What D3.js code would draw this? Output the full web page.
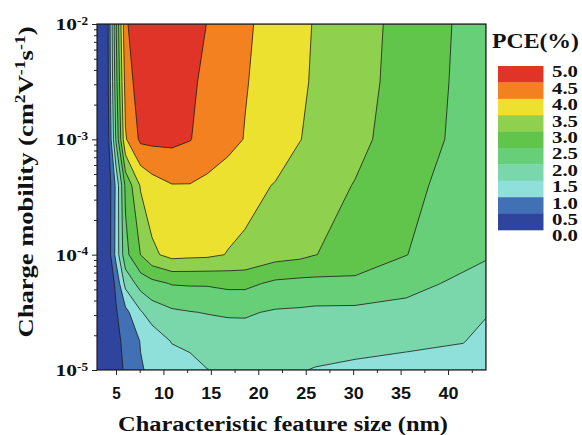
<!DOCTYPE html>
<html>
<head>
<meta charset="utf-8">
<script src="https://cdn.jsdelivr.net/npm/d3@7"></script>
<style>
    body { margin: 0; background: #fff; }
    svg { display: block; font-family: "Liberation Serif", "Times New Roman", serif; font-weight: bold; }
</style>
</head>
<body>
<div id="chart"></div>
<script>
// grid: feature size (nm) across, mobility (cm2/Vs) up
let sizes = [3, 4, 5, 6, 7.6, 8.8, 10.9, 12.8, 14.6, 16.8, 18.6, 21.8, 24.4, 26, 30.2, 35.6, 41.6, 44];
let mobilities = [1e-5, 1.78e-5, 3.16e-5, 5.62e-5, 1e-4, 3.98e-4, 1e-3, 3.16e-3, 1e-2];

// PCE (%), one row per mobility, bottom row first
let pce = [
    [0, 0, 0.2, 0.6, 0.97, 1.07, 1.21, 1.35, 1.49, 1.57, 1.6, 1.58, 1.52, 1.48, 1.43, 1.4, 1.38, 1.32],
    [0, 0, 0.3, 0.7, 1.02, 1.18, 1.53, 1.6, 1.7, 1.78, 1.8, 1.75, 1.7, 1.67, 1.62, 1.56, 1.51, 1.42],
    [0, 0, 0.45, 0.85, 1.45, 1.75, 1.92, 1.98, 2.02, 2.05, 2.05, 1.95, 1.93, 1.9, 1.88, 1.85, 1.72, 1.52],
    [0, 0, 0.6, 1.65, 2.2, 2.35, 2.53, 2.55, 2.55, 2.62, 2.62, 2.4, 2.35, 2.35, 2.38, 2.15, 1.9, 1.8],
    [0, 0, 1.15, 2.35, 3.01, 3.4, 3.66, 3.62, 3.6, 3.48, 3.43, 3.2, 3.12, 3.01, 2.82, 2.51, 2.15, 2.05],
    [0, 0, 1.1, 2.6, 3.55, 3.8, 3.98, 3.98, 3.9, 3.75, 3.62, 3.48, 3.3, 3.2, 2.98, 2.63, 2.3, 2.2],
    [0, 0, 2.05, 3.95, 4.6, 4.62, 4.62, 4.52, 4.3, 4.15, 3.98, 3.7, 3.51, 3.4, 3.13, 2.75, 2.38, 2.25],
    [0, 0.08, 2.3, 4.2, 4.8, 4.88, 4.9, 4.62, 4.35, 4.22, 4.03, 3.78, 3.58, 3.44, 3.19, 2.8, 2.4, 2.27],
    [0, 0.1, 2.45, 4.45, 4.75, 4.85, 4.92, 4.75, 4.49, 4.3, 4.08, 3.8, 3.6, 3.47, 3.22, 2.82, 2.42, 2.3]
];

let levels = [0, 0.5, 1.0, 1.5, 2.0, 2.5, 3.0, 3.5, 4.0, 4.5, 5.0];
let levelColors = ["#2f449d", "#4170b4", "#8fdfda", "#7ad6ab", "#66cf77", "#61c54b",
                   "#8fd14e", "#ece12f", "#f4811f", "#e03428"];

let xTicks = [5, 10, 15, 20, 25, 30, 35, 40];
let yTicks = [1e-5, 1e-4, 1e-3, 1e-2];

let width = 582, height = 435;
let plot = {left: 97, top: 24, right: 486, bottom: 370};

let svg = d3.select("#chart").append("svg")
    .attr("width", width)
    .attr("height", height);

let x = d3.scaleLinear().domain([3, 44]).range([plot.left, plot.right]);
let y = d3.scaleLog().domain([1e-5, 1e-2]).range([plot.bottom, plot.top]);

svg.append("defs").append("clipPath").attr("id", "clip")
    .append("rect")
    .attr("x", plot.left).attr("y", plot.top)
    .attr("width", plot.right - plot.left).attr("height", plot.bottom - plot.top);

// filled contours on the grid
let nx = sizes.length, ny = mobilities.length;
let bands = d3.contours()
    .size([nx, ny])
    .thresholds(levels.slice(0, -1))(pce.flat());

// grid index -> data value (value i sits at i + 0.5 in contour space)
let gx = d3.scaleLinear().domain(d3.range(nx).map(i => i + 0.5)).range(sizes).clamp(true);
let gy = d3.scaleLinear().domain(d3.range(ny).map(j => j + 0.5)).range(mobilities.map(Math.log10)).clamp(true);

let path = d3.geoPath(d3.geoTransform({
    point: function(px, py) {
        this.stream.point(x(gx(px)), y(Math.pow(10, gy(py))));
    }
}));

svg.append("g")
    .attr("clip-path", "url(#clip)")
    .selectAll("path")
    .data(bands)
    .join("path")
    .attr("d", path)
    .attr("fill", (d, i) => levelColors[i])
    .attr("stroke", "#1c1c1c")
    .attr("stroke-width", 0.8)
    .attr("stroke-linejoin", "round");

// x axis
let xAxis = svg.append("g")
    .attr("transform", `translate(0,${plot.bottom})`)
    .call(d3.axisBottom(x).tickValues(xTicks).tickSize(5).tickPadding(12).tickFormat(d3.format("d")));
xAxis.select(".domain").remove();
xAxis.selectAll("line").attr("stroke", "#222");
xAxis.selectAll("text")
    .attr("font-size", 17)
    .attr("font-family", null)
    .attr("fill", "#111")
    .attr("textLength", d => String(d).length > 1 ? 20 : 8.5)
    .attr("lengthAdjust", "spacingAndGlyphs");

svg.append("g")
    .attr("transform", `translate(0,${plot.bottom})`)
    .call(d3.axisBottom(x).tickValues(d3.range(7.5, 44, 5)).tickSize(3).tickFormat(""))
    .call(g => g.select(".domain").remove())
    .selectAll("line").attr("stroke", "#222");

// y axis
let minorY = [];
[1e-5, 1e-4, 1e-3].forEach(dec => d3.range(2, 10).forEach(k => minorY.push(dec * k)));

svg.append("g")
    .attr("transform", `translate(${plot.left},0)`)
    .call(d3.axisLeft(y).tickValues(yTicks).tickSize(5).tickFormat(""))
    .call(g => g.select(".domain").remove())
    .selectAll("line").attr("stroke", "#222");

svg.append("g")
    .attr("transform", `translate(${plot.left},0)`)
    .call(d3.axisLeft(y).tickValues(minorY).tickSize(3).tickFormat(""))
    .call(g => g.select(".domain").remove())
    .selectAll("line").attr("stroke", "#222");

let yLabels = svg.append("g")
    .selectAll("text")
    .data(yTicks)
    .join("text")
    .attr("x", 88)
    .attr("y", d => y(d))
    .attr("dy", "0.35em")
    .attr("text-anchor", "end")
    .attr("font-size", 17.5)
    .attr("fill", "#111");
yLabels.append("tspan").text("10")
    .attr("textLength", 21.5).attr("lengthAdjust", "spacingAndGlyphs");
yLabels.append("tspan")
    .text(d => Math.round(Math.log10(d)))
    .attr("font-size", 12.5)
    .attr("dy", -5.5)
    .attr("textLength", 11).attr("lengthAdjust", "spacingAndGlyphs");

// frame
svg.append("rect")
    .attr("x", plot.left).attr("y", plot.top)
    .attr("width", plot.right - plot.left).attr("height", plot.bottom - plot.top)
    .attr("fill", "none")
    .attr("stroke", "#222")
    .attr("stroke-width", 1.2);

// axis titles
svg.append("text")
    .attr("x", 283).attr("y", 431)
    .attr("text-anchor", "middle")
    .attr("font-size", 20)
    .attr("textLength", 330)
    .attr("lengthAdjust", "spacingAndGlyphs")
    .attr("fill", "#111")
    .text("Characteristic feature size (nm)");

let yTitle = svg.append("text")
    .attr("transform", "translate(33,182) rotate(-90)")
    .attr("text-anchor", "middle")
    .attr("font-size", 21)
    .attr("textLength", 311)
    .attr("lengthAdjust", "spacingAndGlyphs")
    .attr("fill", "#111");
yTitle.append("tspan").text("Charge mobility (cm");
yTitle.append("tspan").text("2").attr("font-size", 14).attr("dy", -8);
yTitle.append("tspan").text("V").attr("dy", 8);
yTitle.append("tspan").text("-1").attr("font-size", 14).attr("dy", -8);
yTitle.append("tspan").text("s").attr("dy", 8);
yTitle.append("tspan").text("-1").attr("font-size", 14).attr("dy", -8);
yTitle.append("tspan").text(")").attr("dy", 8);

// legend
let legend = svg.append("g");
let boxTop = 66, boxH = 16.4;

legend.append("text")
    .attr("x", 492).attr("y", 48)
    .attr("font-size", 21)
    .attr("textLength", 87)
    .attr("lengthAdjust", "spacingAndGlyphs")
    .attr("fill", "#111")
    .text("PCE(%)");

legend.selectAll("rect")
    .data(d3.range(levelColors.length))
    .join("rect")
    .attr("x", 498)
    .attr("y", i => boxTop + i * boxH)
    .attr("width", 45.5)
    .attr("height", boxH + 0.3)
    .attr("fill", i => levelColors[levelColors.length - 1 - i]);

legend.selectAll(".lab")
    .data(levels.slice().reverse())
    .join("text")
    .attr("class", "lab")
    .attr("x", 552)
    .attr("y", (d, i) => boxTop + i * boxH + 5.7)
    .attr("dy", "0.35em")
    .attr("font-size", 16)
    .attr("textLength", 26)
    .attr("lengthAdjust", "spacingAndGlyphs")
    .attr("fill", "#111")
    .text(d => d.toFixed(1));
</script>
</body>
</html>
